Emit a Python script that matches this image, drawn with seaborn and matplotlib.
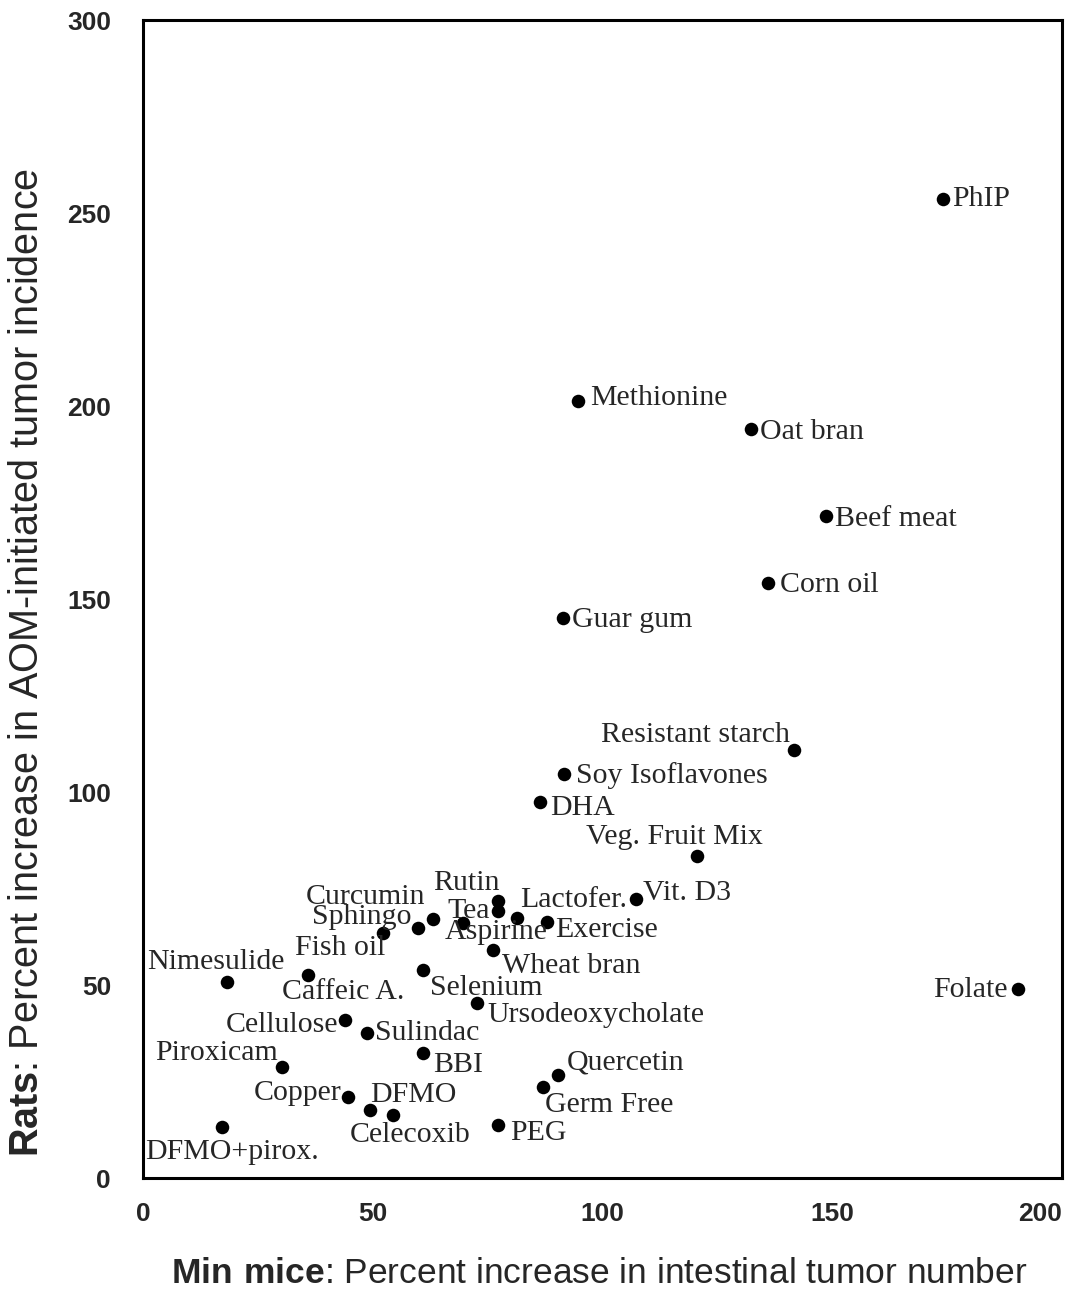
import seaborn as sns
import pandas as pd
import matplotlib.pyplot as plt

# данные: мыши Min (x) против крыс AOM (y)
agents = ['PhIP', 'Methionine', 'Oat bran', 'Beef meat', 'Corn oil', 'Guar gum',
          'Resistant starch', 'Soy Isoflavones', 'DHA', 'Veg. Fruit Mix', 'Vit. D3', 'Folate',
          'Rutin', 'Tea', 'Lactofer.', 'Curcumin', 'Sphingo', 'Aspirine', 'Exercise',
          'Fish oil', 'Wheat bran', 'Nimesulide', 'Caffeic A.', 'Selenium', 'Ursodeoxycholate',
          'Cellulose', 'Sulindac', 'BBI', 'Piroxicam', 'Copper', 'DFMO', 'Celecoxib',
          'DFMO+pirox.', 'PEG', 'Quercetin', 'Germ Free']
mice = [174.1, 94.7, 132.3, 148.6, 136.0, 91.4,
        141.7, 91.6, 86.4, 120.6, 107.3, 190.4,
        77.2, 77.2, 81.4, 63.1, 59.8, 69.6, 87.9,
        52.2, 76.2, 18.3, 35.9, 60.9, 72.7,
        44.0, 48.7, 60.9, 30.3, 44.6, 49.4, 54.4,
        17.2, 77.3, 90.3, 87.1]
rats = [253.6, 201.3, 194.0, 171.5, 154.1, 145.1,
        110.9, 104.7, 97.4, 83.4, 72.3, 49.0,
        71.8, 69.2, 67.4, 67.1, 64.8, 66.1, 66.3,
        63.5, 59.1, 50.8, 52.6, 53.9, 45.3,
        40.9, 37.6, 32.4, 28.8, 21.0, 17.6, 16.3,
        13.2, 13.7, 26.7, 23.6]

# смещения подписей в пикселях (ha, dx, dy)
label_pos = {
    'PhIP': ('left', 9, 0), 'Methionine': ('left', 12, 3), 'Oat bran': ('left', 9, -3),
    'Beef meat': ('left', 9, -3), 'Corn oil': ('left', 12, -2), 'Guar gum': ('left', 9, -2),
    'Resistant starch': ('right', -4, 15), 'Soy Isoflavones': ('left', 12, -2),
    'DHA': ('left', 10, -6), 'Veg. Fruit Mix': ('left', -111, 19), 'Vit. D3': ('left', 7, 6),
    'Folate': ('right', -10, -1), 'Rutin': ('right', 2, 18), 'Tea': ('right', -8, 0),
    'Lactofer.': ('left', 3, 18), 'Curcumin': ('right', -8, 22), 'Sphingo': ('right', -6, 11),
    'Aspirine': ('left', -18, -9), 'Exercise': ('left', 8, -8), 'Fish oil': ('right', 2, -15),
    'Wheat bran': ('left', 9, -16), 'Nimesulide': ('left', -80, 20),
    'Caffeic A.': ('left', -26, -17), 'Selenium': ('left', 7, -18),
    'Ursodeoxycholate': ('left', 10, -12), 'Cellulose': ('right', -7, -5),
    'Sulindac': ('left', 8, 0), 'BBI': ('left', 10, -12), 'Piroxicam': ('right', -4, 14),
    'Copper': ('right', -6, 4), 'DFMO': ('left', 0, 15), 'Celecoxib': ('left', -43, -20),
    'DFMO+pirox.': ('left', -77, -25), 'PEG': ('left', 12, -8), 'Quercetin': ('left', 9, 12),
    'Germ Free': ('left', 2, -18),
}

df = pd.DataFrame({'agent': agents, 'mice': mice, 'rats': rats})

sns.set_style('white')
plt.rcParams['font.family'] = ['Liberation Sans', 'DejaVu Sans']
plt.rcParams['mathtext.fontset'] = 'custom'
plt.rcParams['mathtext.rm'] = 'Liberation Sans'
plt.rcParams['mathtext.bf'] = 'Liberation Sans:bold'

fig = plt.figure(figsize=(10.69, 12.93), dpi=100)
ax = fig.add_axes([0.1338, 0.0889, 0.8597, 0.8956])

sns.scatterplot(data=df, x='mice', y='rats', color='black', s=95,
                edgecolor='black', linewidth=0, ax=ax, legend=False)

for name, x, y in zip(agents, mice, rats):
    ha, dx, dy = label_pos[name]
    ax.annotate(name, (x, y), xytext=(dx, dy), textcoords='offset pixels',
                ha=ha, va='center', fontsize=21.5, family='Liberation Serif')

ax.set_xlim(0, 200)
ax.set_ylim(0, 300)
ax.set_xticks([0, 50, 100, 150, 200])
ax.set_yticks([0, 50, 100, 150, 200, 250, 300])
for s in ax.spines.values():
    s.set_linewidth(2.2)
    s.set_color('black')
ax.tick_params(axis='y', direction='out', length=7, width=2.2, labelsize=19, pad=16)
ax.tick_params(axis='x', direction='out', length=7, width=2.2, labelsize=19, pad=10)
for lab in ax.get_xticklabels() + ax.get_yticklabels():
    lab.set_fontweight('bold')
ax.get_xticklabels()[-1].set_horizontalalignment('right')

ax.set_xlabel(r'$\bf{Min\ mice}$: Percent increase in intestinal tumor number', fontsize=25.5)
ax.set_ylabel(r'$\bf{Rats}$: Percent increase in AOM-initiated tumor incidence', fontsize=28.5)
ax.xaxis.set_label_coords(0.496, -0.068)
ax.yaxis.set_label_coords(-0.106, 0.445)

fig.savefig('out.png', dpi=100)
